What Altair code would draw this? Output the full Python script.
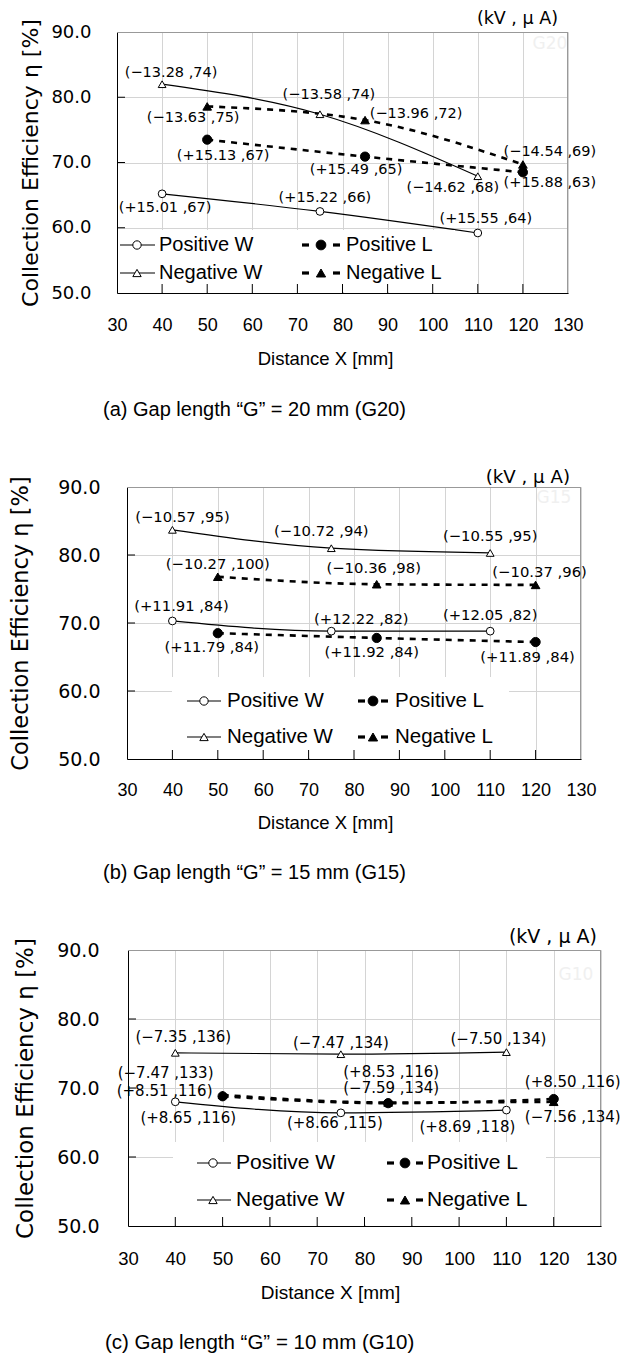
import altair as alt
import pandas as pd

# ---------------- data ----------------
SERIES = ["Positive W", "Negative W", "Positive L", "Negative L"]
X_W = [40, 75, 110]
X_L = [50, 85, 120]
X_TICKS = [30, 40, 50, 60, 70, 80, 90, 100, 110, 120, 130]
Y_TICKS = [50, 60, 70, 80, 90]

# (a) G20
G20_POS_W = [65.2, 62.5, 59.2]
G20_NEG_W = [82.0, 77.4, 67.9]
G20_POS_L = [73.5, 70.9, 68.5]
G20_NEG_L = [78.6, 76.5, 69.7]
G20_POS_W_LAB = ["(+15.01 ,67)", "(+15.22 ,66)", "(+15.55 ,64)"]
G20_NEG_W_LAB = ["(−13.28 ,74)", "(−13.58 ,74)", "(−14.62 ,68)"]
G20_POS_L_LAB = ["(+15.13 ,67)", "(+15.49 ,65)", "(+15.88 ,63)"]
G20_NEG_L_LAB = ["(−13.63 ,75)", "(−13.96 ,72)", "(−14.54 ,69)"]

# (b) G15
G15_POS_W = [70.3, 68.8, 68.8]
G15_NEG_W = [83.7, 81.0, 80.3]
G15_POS_L = [68.5, 67.8, 67.2]
G15_NEG_L = [76.8, 75.7, 75.6]
G15_POS_W_LAB = ["(+11.91 ,84)", "(+12.22 ,82)", "(+12.05 ,82)"]
G15_NEG_W_LAB = ["(−10.57 ,95)", "(−10.72 ,94)", "(−10.55 ,95)"]
G15_POS_L_LAB = ["(+11.79 ,84)", "(+11.92 ,84)", "(+11.89 ,84)"]
G15_NEG_L_LAB = ["(−10.27 ,100)", "(−10.36 ,98)", "(−10.37 ,96)"]

# (c) G10
G10_POS_W = [68.0, 66.4, 66.8]
G10_NEG_W = [75.1, 74.9, 75.2]
G10_POS_L = [68.8, 67.8, 68.4]
G10_NEG_L = [69.0, 67.9, 68.0]
G10_POS_W_LAB = ["(+8.65 ,116)", "(+8.66 ,115)", "(+8.69 ,118)"]
G10_NEG_W_LAB = ["(−7.35 ,136)", "(−7.47 ,134)", "(−7.50 ,134)"]
G10_POS_L_LAB = ["(+8.51 ,116)", "(+8.53 ,116)", "(+8.50 ,116)"]
G10_NEG_L_LAB = ["(−7.47 ,133)", "(−7.59 ,134)", "(−7.56 ,134)"]

CAPTIONS = ["(a) Gap length “G” = 20 mm (G20)",
            "(b) Gap length “G” = 15 mm (G15)",
            "(c) Gap length “G” = 10 mm (G10)"]
TAGS = ["G20", "G15", "G10"]
UNIT_TEXT = "(kV ,  μ A)"
X_TITLE = "Distance X  [mm]"
Y_TITLE = "Collection Efficiency η    [%]"

PANEL_DATA = [
    {"Positive W": (G20_POS_W, G20_POS_W_LAB), "Negative W": (G20_NEG_W, G20_NEG_W_LAB),
     "Positive L": (G20_POS_L, G20_POS_L_LAB), "Negative L": (G20_NEG_L, G20_NEG_L_LAB)},
    {"Positive W": (G15_POS_W, G15_POS_W_LAB), "Negative W": (G15_NEG_W, G15_NEG_W_LAB),
     "Positive L": (G15_POS_L, G15_POS_L_LAB), "Negative L": (G15_NEG_L, G15_NEG_L_LAB)},
    {"Positive W": (G10_POS_W, G10_POS_W_LAB), "Negative W": (G10_NEG_W, G10_NEG_W_LAB),
     "Positive L": (G10_POS_L, G10_POS_L_LAB), "Negative L": (G10_NEG_L, G10_NEG_L_LAB)},
]

# ---------------- layout / style ----------------
SANS = "Liberation Sans"
STYLE = {
    "Positive W": dict(xs=X_W, dash=None, shape="circle", fill="white", size=60),
    "Negative W": dict(xs=X_W, dash=None, shape="triangle-up", fill="white", size=60),
    "Positive L": dict(xs=X_L, dash=[6, 6], shape="circle", fill="black", size=85),
    "Negative L": dict(xs=X_L, dash=[6, 6], shape="triangle-up", fill="black", size=75),
}
POINT_ORDER = ["Negative W", "Positive W", "Negative L", "Positive L"]
LEFT_EXT = 109  # common distance from page margin to the shared origin

LAYOUTS = [
    dict(d=0, W=451, H=261, top=-24, bottom=423,
         off={"Positive W": [(3, 14), (5, -13), (8, -14)],
              "Negative W": [(9, -11), (9, -19), (-25, 12)],
              "Positive L": [(16, 16), (-9, 13), (27, 11)],
              "Negative L": [(-14, 12), (51, -6), (27, -12)]},
         ann_fs=14.5, ylab_fs=18, ylab_pad=26, ytitle_fs=22, ytitle_x=-80,
         xlab_fs=18, xlab_pad=32, xtitle_fs=18.5, xtitle_x=208, xtitle_y=65,
         cap_x=-14, cap_dy=117, cap_fs=20,
         unit_x=-10, unit_y=-13, unit_fs=17.5, tag_x=-18, tag_y=12,
         leg_rows=(213, 241), leg_c1=(3, 38, 20, 42), leg_c2=(185, 223, 204, 229),
         leg_box=(1, 338, 198), leg_fs=20),
    dict(d=10, W=454, H=272, top=-32, bottom=428,
         off={"Positive W": [(9, -14), (30, -11), (0, -15)],
              "Negative W": [(10, -12), (-10, -16), (0, -16)],
              "Positive L": [(-6, 15), (-5, 15), (-8, 16)],
              "Negative L": [(0, -12), (-3, -15), (4, -12)]},
         ann_fs=14.8, ylab_fs=19, ylab_pad=27, ytitle_fs=22.5, ytitle_x=-100,
         xlab_fs=18, xlab_pad=31, xtitle_fs=18.5, xtitle_x=198, xtitle_y=63,
         cap_x=-24, cap_dy=114, cap_fs=20,
         unit_x=-11, unit_y=-9, unit_fs=18.2, tag_x=-27, tag_y=11,
         leg_rows=(214, 250), leg_c1=(60, 94, 77, 100), leg_c2=(231, 261, 246, 268),
         leg_box=(45, 382, 190), leg_fs=20.5),
    dict(d=11, W=473, H=276, top=-35, bottom=410,
         off={"Positive W": [(13, 16), (-6, 10), (-39, 17)],
              "Negative W": [(8, -16), (0, -11), (-8, -13)],
              "Positive L": [(-58, -5), (3, -31), (19, -17)],
              "Negative L": [(-57, -22), (3, -14), (19, 15)]},
         ann_fs=15, ylab_fs=19, ylab_pad=29, ytitle_fs=23, ytitle_x=-96,
         xlab_fs=18.5, xlab_pad=32, xtitle_fs=19, xtitle_x=202, xtitle_y=66,
         cap_x=-23, cap_dy=117, cap_fs=20.5,
         unit_x=-4, unit_y=-13, unit_fs=19, tag_x=-25, tag_y=25,
         leg_rows=(213, 250), leg_c1=(69, 103, 85, 108), leg_c2=(259, 295, 277, 299),
         leg_box=(45, 418, 192), leg_fs=21),
]

GRID = "#d4d4d4"
FRAME = "#999999"
BLACK = "#000000"


def one():
    return pd.DataFrame({"d": [0]})


def build_panel(idx):
    L = LAYOUTS[idx]
    data = PANEL_DATA[idx]
    d, W, H = L["d"], L["W"], L["H"]
    xs = alt.Scale(domain=[30, 130], range=[d, d + W], nice=False, zero=False)
    ys = alt.Scale(domain=[50, 90], nice=False, zero=False)
    x_axis = alt.Axis(values=X_TICKS, grid=True, gridColor=GRID, gridWidth=1,
                      domainColor=BLACK, domainWidth=1, ticks=False, tickSize=0,
                      labelFont=SANS, labelFontSize=L["xlab_fs"], labelColor=BLACK,
                      labelBaseline="middle", labelPadding=L["xlab_pad"], labelFlush=False,
                      labelOverlap=False, title=X_TITLE, titleFont=SANS,
                      titleFontSize=L["xtitle_fs"], titleFontWeight="normal", titleColor=BLACK,
                      titleX=d + L["xtitle_x"], titleY=L["xtitle_y"], titleBaseline="middle",
                      titleAlign="center")
    y_axis = alt.Axis(values=Y_TICKS, format=".1f", grid=True, gridColor=GRID, gridWidth=1,
                      domainColor=BLACK, domainWidth=1, ticks=False, tickSize=0, offset=-d,
                      labelFont="DejaVu Sans", labelFontSize=L["ylab_fs"], labelColor=BLACK,
                      labelPadding=L["ylab_pad"], labelOverlap=False,
                      title=Y_TITLE, titleFont="DejaVu Sans", titleFontSize=L["ytitle_fs"],
                      titleFontWeight="normal", titleColor=BLACK, titleAngle=270,
                      titleX=L["ytitle_x"], titleY=H / 2, titleBaseline="alphabetic",
                      titleAlign="center")

    def X():
        return alt.X("x:Q", scale=xs, axis=x_axis)

    def Y():
        return alt.Y("y:Q", scale=ys, axis=y_axis)

    def rule(**enc):
        return alt.Chart(one()).mark_rule(color=FRAME, strokeWidth=1).encode(**enc)

    layers = []
    # invisible spacer that fixes the panel's outer bounds
    layers.append(alt.Chart(one()).mark_rule(color="white", strokeOpacity=0, strokeWidth=0.01).encode(
        x=alt.value(-LEFT_EXT), y=alt.value(L["top"]), y2=alt.value(L["bottom"])))
    # top and right frame of the plot area
    layers.append(rule(x=alt.value(d), x2=alt.value(d + W), y=alt.value(0.5)))
    layers.append(rule(x=alt.value(d + W - 0.5), y=alt.value(0), y2=alt.value(H)))

    # series lines
    for name in SERIES:
        st = STYLE[name]
        vals, _ = data[name]
        df = pd.DataFrame({"x": st["xs"], "y": vals})
        if st["dash"]:
            mk = alt.Chart(df).mark_line(color=BLACK, strokeWidth=2.6, strokeDash=st["dash"],
                                         interpolate="monotone")
        else:
            mk = alt.Chart(df).mark_line(color=BLACK, strokeWidth=1.2, interpolate="monotone")
        layers.append(mk.encode(x=X(), y=Y()))

    # markers
    for name in POINT_ORDER:
        st = STYLE[name]
        vals, _ = data[name]
        df = pd.DataFrame({"x": st["xs"], "y": vals})
        layers.append(alt.Chart(df).mark_point(shape=st["shape"], filled=True, fill=st["fill"],
                                               stroke=BLACK, strokeWidth=1, size=st["size"],
                                               opacity=1).encode(x=X(), y=Y()))

    # data labels
    for name in SERIES:
        st = STYLE[name]
        vals, labs = data[name]
        for j in range(3):
            dx, dy = L["off"][name][j]
            df = pd.DataFrame({"x": [st["xs"][j]], "y": [vals[j]], "t": [labs[j]]})
            layers.append(alt.Chart(df).mark_text(font="DejaVu Sans", fontSize=L["ann_fs"],
                                                  color=BLACK, align="center", baseline="middle",
                                                  dx=dx, dy=dy).encode(x=X(), y=Y(), text="t:N"))

    # legend (drawn inside plot, white box)
    bx1, bx2, by1 = L["leg_box"]
    layers.append(alt.Chart(one()).mark_rect(color="white", opacity=1).encode(
        x=alt.value(d + bx1), x2=alt.value(d + bx2), y=alt.value(by1), y2=alt.value(H - 1)))
    leg_pos = {"Positive W": (0, 0), "Positive L": (0, 1), "Negative W": (1, 0), "Negative L": (1, 1)}
    for name in SERIES:
        st = STYLE[name]
        r, c = leg_pos[name]
        ry = L["leg_rows"][r]
        a, b, m, t = L["leg_c1"] if c == 0 else L["leg_c2"]
        if st["dash"]:
            for (s0, s1) in [(a, a + 7), (b - 7, b)]:
                layers.append(alt.Chart(one()).mark_rule(color=BLACK, strokeWidth=3.2).encode(
                    x=alt.value(d + s0), x2=alt.value(d + s1), y=alt.value(ry)))
        else:
            layers.append(alt.Chart(one()).mark_rule(color=BLACK, strokeWidth=1.2).encode(
                x=alt.value(d + a), x2=alt.value(d + b), y=alt.value(ry)))
        layers.append(alt.Chart(one()).mark_point(shape=st["shape"], filled=True, fill=st["fill"],
                                                  stroke=BLACK, strokeWidth=1,
                                                  size=st["size"] + 10, opacity=1).encode(
            x=alt.value(d + m), y=alt.value(ry)))
        layers.append(alt.Chart(one()).mark_text(font=SANS, fontSize=L["leg_fs"],
                                                 color=BLACK, align="left",
                                                 baseline="middle").encode(
            x=alt.value(d + t), y=alt.value(ry), text=alt.value(name)))

    # inward ticks
    xt = pd.DataFrame({"x": X_TICKS[1:-1]})
    layers.append(alt.Chart(xt).mark_rule(color=BLACK, strokeWidth=1).encode(
        x=X(), y=alt.value(H), y2=alt.value(H - 9)))
    yt = pd.DataFrame({"y": Y_TICKS[1:-1]})
    layers.append(alt.Chart(yt).mark_rule(color=BLACK, strokeWidth=1).encode(
        y=Y(), x=alt.value(d), x2=alt.value(d + 8)))

    # unit note, faint tag, caption
    layers.append(alt.Chart(one()).mark_text(font="DejaVu Sans", fontSize=17, color="#f0f0f0",
                                             align="center", baseline="middle").encode(
        x=alt.value(d + W + L["tag_x"]), y=alt.value(L["tag_y"]), text=alt.value(TAGS[idx])))
    layers.append(alt.Chart(one()).mark_text(font="DejaVu Sans", fontSize=L["unit_fs"], color=BLACK,
                                             align="right", baseline="middle").encode(
        x=alt.value(d + W + L["unit_x"]), y=alt.value(L["unit_y"]), text=alt.value(UNIT_TEXT)))
    layers.append(alt.Chart(one()).mark_text(font=SANS, fontSize=L["cap_fs"],
                                             color=BLACK, align="left", baseline="middle").encode(
        x=alt.value(d + L["cap_x"]), y=alt.value(H + L["cap_dy"]), text=alt.value(CAPTIONS[idx])))

    return alt.layer(*layers).properties(width=d + W, height=H)


chart = alt.vconcat(build_panel(0), build_panel(1), build_panel(2), spacing=0).properties(
    padding=0, background="white"
).configure_view(strokeWidth=0)

chart.save("out.html", embed_options={"renderer": "svg", "actions": False})
